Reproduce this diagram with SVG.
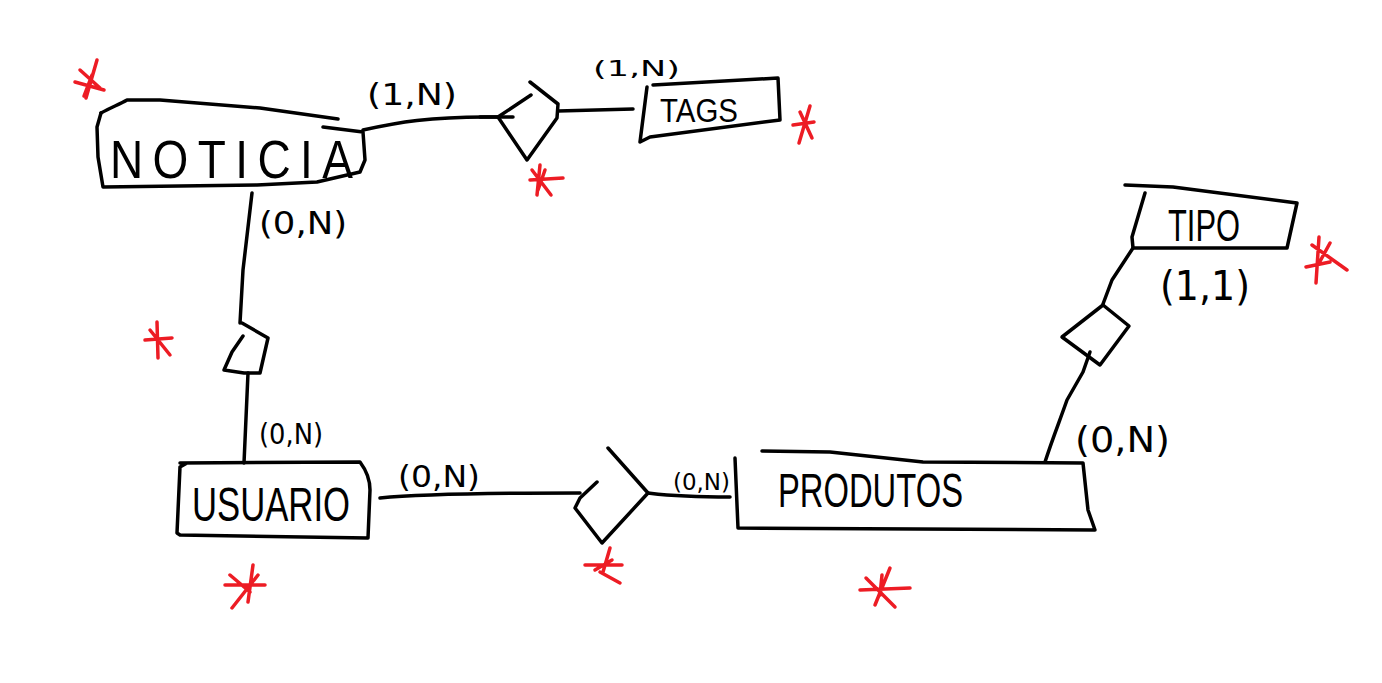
<svg xmlns="http://www.w3.org/2000/svg" width="1382" height="683" viewBox="0 0 1382 683">
<style>
.s{fill:none;stroke:#000;stroke-width:3.5;stroke-linecap:round;stroke-linejoin:round}
.r{fill:none;stroke:#ed1c24;stroke-width:3.5;stroke-linecap:round}
.t{font-family:"DejaVu Sans","Liberation Sans",sans-serif;fill:#000}
.e{font-family:"Liberation Sans","DejaVu Sans",sans-serif;fill:#000}
</style>
<rect width="1382" height="683" fill="#fff"/>
<g id="connectors">
<path class="s" d="M363,130 C395,123 430,116 497,117"/>
<path class="s" d="M480,117 L513,117"/>
<path class="s" d="M558,111 L633,109"/>
<path class="s" d="M252,193 L243,270 L240,323"/>
<path class="s" d="M248,373 L244,463"/>
<path class="s" d="M380,498 C420,494 500,493 580,493"/>
<path class="s" d="M648,493 C665,495 680,497 730,497"/>
<path class="s" d="M1045,462 C1052,440 1060,420 1067,400 L1083,372 L1090,352"/>
<path class="s" d="M1103,304 L1112,280 L1133,248"/>
</g>
<g id="noticia">
<path class="s" d="M101,113 C110,108 120,104 127,100 L160,100 L260,108 L338,119"/>
<path class="s" d="M323,127 L363,132 L365,160 L360,172 L317,182 L257,185 L103,187 L98,157 L97,127 L101,113"/>
<text class="e" transform="translate(110,178) scale(1,1.15)" font-size="46" textLength="243" lengthAdjust="spacing">NOTICIA</text>
</g>
<g id="rel-noticia-tags">
<path class="s" d="M530,82 L558,104 L557,118 L527,160 L498,117 L531,95"/>
</g>
<g id="tags">
<path class="s" d="M647,87 L640,142 L650,137 L780,120 L778,78 L653,85"/>
<text class="e" transform="translate(660,122) scale(1,1.2)" font-size="28" textLength="78" lengthAdjust="spacingAndGlyphs">TAGS</text>
</g>
<g id="rel-noticia-usuario">
<path class="s" d="M242,323 L268,338 L260,373 L244,373 L224,370 L232,352 L243,336"/>
</g>
<g id="usuario">
<path class="s" d="M180,463 L360,462 C366,470 370,480 370,490 L368,538 L180,535 L177,533 L180,467 L187,463"/>
<text class="e" transform="translate(192,521) scale(1,1.35)" font-size="35" textLength="158" lengthAdjust="spacingAndGlyphs">USUARIO</text>
</g>
<g id="rel-usuario-produtos">
<path class="s" d="M597,482 L580,498 L575,508 L602,543 L648,493 L608,448"/>
</g>
<g id="produtos">
<path class="s" d="M735,458 L738,528 L1095,530 L1088,510 L1083,463 L923,462 L830,452 L762,451"/>
<text class="e" transform="translate(778,507) scale(1,1.5)" font-size="32" textLength="185" lengthAdjust="spacingAndGlyphs">PRODUTOS</text>
</g>
<g id="rel-produtos-tipo">
<path class="s" d="M1103,305 L1129,326 L1100,365 L1062,337 Z"/>
</g>
<g id="tipo">
<path class="s" d="M1125,185 L1173,187 L1297,203 L1287,248 L1133,248 L1132,237 L1145,193"/>
<text class="e" transform="translate(1168,241) scale(1,1.45)" font-size="30" textLength="72" lengthAdjust="spacingAndGlyphs">TIPO</text>
</g>
<g id="labels">
<text class="t" x="367" y="105" font-size="30" textLength="90" lengthAdjust="spacingAndGlyphs">(1,N)</text>
<text class="t" x="593" y="76" font-size="22" textLength="87" lengthAdjust="spacingAndGlyphs">(1,N)</text>
<text class="t" x="259" y="234" font-size="32" textLength="88" lengthAdjust="spacingAndGlyphs">(0,N)</text>
<text class="t" x="259" y="444" font-size="28" textLength="64" lengthAdjust="spacingAndGlyphs">(0,N)</text>
<text class="t" x="398" y="487" font-size="30" textLength="82" lengthAdjust="spacingAndGlyphs">(0,N)</text>
<text class="t" x="673" y="490" font-size="23" textLength="57" lengthAdjust="spacingAndGlyphs">(0,N)</text>
<text class="t" x="1075" y="452" font-size="36" textLength="95" lengthAdjust="spacingAndGlyphs">(0,N)</text>
<text class="t" x="1160" y="300" font-size="40" textLength="90" lengthAdjust="spacingAndGlyphs">(1,1)</text>
</g>
<g id="asterisks">
<path class="r" d="M97,60 L86,98 M75,82 L104,90 M80,70 L100,88 M92,75 L84,96"/>
<path class="r" d="M540,165 L537,195 M530,180 L563,178 M532,170 L551,195 M545,170 L538,190"/>
<path class="r" d="M810,106 L799,143 M793,125 L814,122 M800,112 L812,138"/>
<path class="r" d="M1319,237 L1316,283 M1306,267 L1330,262 M1312,245 L1347,270 M1330,243 L1318,265"/>
<path class="r" d="M157,322 L158,358 M145,340 L172,338 M150,330 L170,355"/>
<path class="r" d="M253,565 L248,602 M225,585 L265,585 M230,575 L250,592 M232,608 L258,575"/>
<path class="r" d="M610,548 L603,572 M585,565 L622,565 M600,572 L620,583 M595,570 L612,560"/>
<path class="r" d="M890,568 L875,605 M860,590 L910,588 M866,578 L895,607 M882,575 L880,595"/>
</g>
</svg>
